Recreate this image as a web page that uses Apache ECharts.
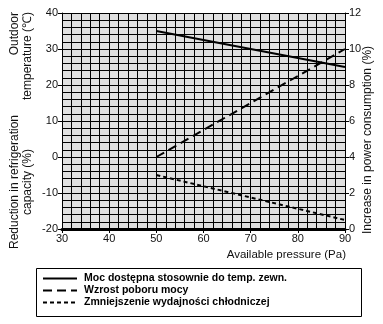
<!DOCTYPE html>
<html><head><meta charset="utf-8">
<script src="https://cdn.jsdelivr.net/npm/echarts@6/dist/echarts.min.js"></script>
<style>html,body{margin:0;padding:0;background:#fff}#c{width:383px;height:324px}</style>
</head><body><div id="c"></div>
<script>
const pressure = [50, 90];
const availablePower = [35, 25];
const powerIncrease = [4, 10];
const capacityReduction = [-5, -17.5];
const legendNames = ['Moc dostępna stosownie do temp. zewn.', 'Wzrost poboru mocy', 'Zmniejszenie wydajności chłodniczej'];

const zip = (xs, ys) => xs.map((x, i) => [x, ys[i]]);
const FONT = 'Liberation Sans, Arial, sans-serif';
const chart = echarts.init(document.getElementById('c'), null, {renderer: 'canvas'});
const axisLabel = {color: '#111', fontSize: 11, fontFamily: FONT, margin: 4};
chart.setOption({
  animation: false,
  grid: {left: 62, right: 38, top: 13, bottom: 95, show: true, backgroundColor: '#e0e0e0', borderWidth: 0},
  xAxis: {
    type: 'value', min: 30, max: 90, interval: 10,
    axisLine: {show: true, onZero: false, lineStyle: {color: '#000', width: 3}},
    axisTick: {show: true, length: 4, lineStyle: {color: '#000'}},
    axisLabel: axisLabel,
    splitLine: {show: true, lineStyle: {color: '#000', width: 1}},
    minorTick: {show: false, splitNumber: 5},
    minorSplitLine: {show: true, lineStyle: {color: '#000', width: 1}}
  },
  yAxis: [{
    type: 'value', min: -20, max: 40, interval: 10,
    axisLine: {show: true, onZero: false, lineStyle: {color: '#000', width: 1}},
    axisTick: {show: true, length: 4, lineStyle: {color: '#000'}},
    axisLabel: axisLabel,
    splitLine: {show: true, lineStyle: {color: '#000', width: 1}},
    minorTick: {show: false, splitNumber: 5},
    minorSplitLine: {show: true, lineStyle: {color: '#000', width: 1}}
  }, {
    type: 'value', min: 0, max: 12, interval: 2, position: 'right',
    axisLine: {show: true, onZero: false, lineStyle: {color: '#000', width: 1}},
    axisTick: {show: true, length: 4, lineStyle: {color: '#000'}},
    axisLabel: axisLabel,
    splitLine: {show: false}
  }],
  legend: {
    orient: 'vertical', left: 42, top: 273, itemGap: 1, itemWidth: 34, itemHeight: 12,
    padding: 0,
    itemStyle: {opacity: 0},
    textStyle: {fontFamily: FONT, fontSize: 10.5, fontWeight: 'bold', color: '#000', padding: [0, 0, 0, 2]},
    data: legendNames
  },
  series: [
    {name: legendNames[0], type: 'line', yAxisIndex: 0, symbol: 'none', data: zip(pressure, availablePower), lineStyle: {color: '#000', width: 2, type: 'solid'}, itemStyle: {color: '#000'}},
    {name: legendNames[1], type: 'line', yAxisIndex: 1, symbol: 'none', data: zip(pressure, powerIncrease), lineStyle: {color: '#000', width: 2, type: [9, 5]}, itemStyle: {color: '#000'}},
    {name: legendNames[2], type: 'line', yAxisIndex: 0, symbol: 'none', data: zip(pressure, capacityReduction), lineStyle: {color: '#000', width: 2, type: [4, 3]}, itemStyle: {color: '#000'}}
  ],
  graphic: [
    {type: 'rect', shape: {x: 36.5, y: 268.5, width: 325, height: 48}, style: {fill: 'none', stroke: '#000', lineWidth: 1}},
    {type: 'text', x: 346, y: 255, style: {text: 'Available pressure (Pa)', font: '11.5px ' + FONT, fill: '#111', align: 'right', verticalAlign: 'middle'}},
    {type: 'text', x: 21.5, y: 12, rotation: Math.PI / 2, style: {text: 'Outdoor\ntemperature (℃)', font: '12px ' + FONT, fill: '#111', align: 'right', verticalAlign: 'middle', lineHeight: 13}},
    {type: 'text', x: 21.5, y: 182, rotation: Math.PI / 2, style: {text: 'Reduction in refrigeration\ncapacity (%)', font: '12px ' + FONT, fill: '#111', align: 'center', verticalAlign: 'middle', lineHeight: 13}},
    {type: 'text', x: 368, y: 140, rotation: Math.PI / 2, style: {text: 'Increase in power consumption (%)', font: '12px ' + FONT, fill: '#111', align: 'center', verticalAlign: 'middle'}}
  ]
});
</script></body></html>
